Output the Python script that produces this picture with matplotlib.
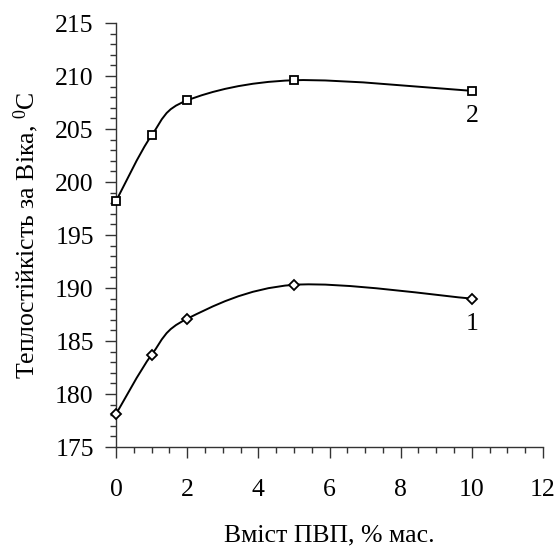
import numpy as np
import matplotlib
matplotlib.use("Agg")
import matplotlib.pyplot as plt
from matplotlib.path import Path
from matplotlib.patches import PathPatch
from matplotlib.ticker import MultipleLocator

# ---- data ----
pvp_content = [0, 1, 2, 5, 10]
series1_vicat = [178.1, 183.7, 187.1, 190.3, 189.0]
series2_vicat = [198.2, 204.4, 207.7, 209.6, 208.6]
series_labels = ["1", "2"]
x_label = "Вміст ПВП, % мас."
y_label = "Теплостійкість за Віка, $^{0}$C"

plt.rcParams['font.family'] = 'serif'
plt.rcParams['font.serif'] = ['Liberation Serif', 'DejaVu Serif']
plt.rcParams['mathtext.fontset'] = 'custom'
plt.rcParams['mathtext.rm'] = 'Liberation Serif'
plt.rcParams['mathtext.it'] = 'Liberation Serif'
plt.rcParams['mathtext.default'] = 'regular'

FS = 18.5
FAM = 'Liberation Serif'

def smooth_path(xs, ys):
    xs = np.asarray(xs, float); ys = np.asarray(ys, float)
    n = len(xs)
    verts = [(xs[0], ys[0])]
    codes = [Path.MOVETO]
    for i in range(n - 1):
        p0 = np.array([xs[max(i - 1, 0)], ys[max(i - 1, 0)]])
        p1 = np.array([xs[i], ys[i]])
        p2 = np.array([xs[i + 1], ys[i + 1]])
        p3 = np.array([xs[min(i + 2, n - 1)], ys[min(i + 2, n - 1)]])
        c1 = p1 + (p2 - p0) / 6.0
        c2 = p2 - (p3 - p1) / 6.0
        verts += [tuple(c1), tuple(c2), tuple(p2)]
        codes += [Path.CURVE4] * 3
    return Path(verts, codes)

fig = plt.figure(figsize=(5.59, 5.48), dpi=100)
ax = fig.add_axes([0.2075, 0.1843, 0.7639, 0.7737])

for ys, mk, lbl in [(series1_vicat, 'D', series_labels[0]), (series2_vicat, 's', series_labels[1])]:
    ax.add_patch(PathPatch(smooth_path(pvp_content, ys), facecolor='none',
                           edgecolor='black', lw=1.4, zorder=2))
    ax.plot(pvp_content, ys, linestyle='none', marker=mk,
            ms=5.5 if mk == 's' else 5, mfc='white', mec='black', mew=1.3, zorder=3,
            clip_on=False)
    ax.text(pvp_content[-1], ys[-1] - 2.4, lbl, ha='center', va='center',
            fontsize=FS, family=FAM)

ax.set_xlim(0, 12)
ax.set_ylim(175, 215)
ax.xaxis.set_major_locator(MultipleLocator(2))
ax.xaxis.set_minor_locator(MultipleLocator(0.5))
ax.yaxis.set_major_locator(MultipleLocator(5))
ax.yaxis.set_minor_locator(MultipleLocator(1))

for s in ['top', 'right']:
    ax.spines[s].set_visible(False)
for s in ['left', 'bottom']:
    ax.spines[s].set_linewidth(1.0)
    ax.spines[s].set_color('#333333')

ax.tick_params(axis='both', which='major', direction='out', length=8, width=1.0,
               labelsize=FS, color='#333333')
ax.tick_params(axis='both', which='minor', direction='out', length=4.5, width=1.0,
               color='#333333')
ax.tick_params(axis='x', which='major', pad=15)
ax.tick_params(axis='y', which='major', pad=8)
for t in ax.get_xticklabels() + ax.get_yticklabels():
    t.set_family(FAM)

ax.set_xlabel(x_label, fontsize=FS, labelpad=17, family=FAM)
ax.set_ylabel(y_label, fontsize=FS, labelpad=10, family=FAM)

fig.savefig("out.png", dpi=100)
